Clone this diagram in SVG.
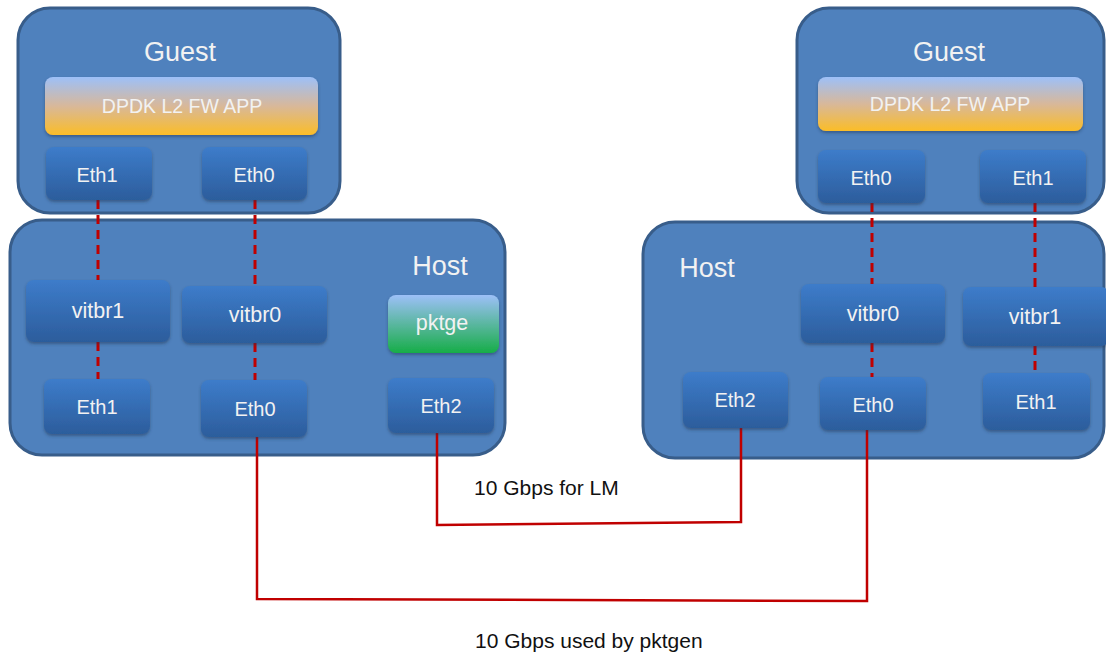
<svg xmlns="http://www.w3.org/2000/svg" width="1106" height="655" viewBox="0 0 1106 655">
<defs>
<linearGradient id="gNode" x1="0" y1="0" x2="0" y2="1">
<stop offset="0" stop-color="#3d7cca"/>
<stop offset="1" stop-color="#2c5d9c"/>
</linearGradient>
<linearGradient id="gApp" x1="0" y1="0" x2="0" y2="1">
<stop offset="0" stop-color="#9dc0f8"/>
<stop offset="0.5" stop-color="#d8b89a"/>
<stop offset="1" stop-color="#fbbd27"/>
</linearGradient>
<linearGradient id="gPkt" x1="0" y1="0" x2="0" y2="1">
<stop offset="0" stop-color="#9dc0f8"/>
<stop offset="1" stop-color="#17ad48"/>
</linearGradient>
<filter id="sh" x="-10%" y="-10%" width="120%" height="130%">
<feDropShadow dx="0" dy="2" stdDeviation="1.5" flood-color="#1d3557" flood-opacity="0.5"/>
</filter>
</defs>
<style>
.box{fill:#4f81bd;stroke:#385d8a;stroke-width:3}
.node{fill:url(#gNode);filter:url(#sh)}
.app{fill:url(#gApp);filter:url(#sh)}
.pkt{fill:url(#gPkt);filter:url(#sh)}
.t{font-family:"Liberation Sans",Arial,sans-serif;fill:#f2f2f2;text-anchor:middle;dominant-baseline:central}
.nt{font-size:20px}
.vt{font-size:21.5px}
.title{font-size:27px}
.dash{stroke:#c00000;stroke-width:3;stroke-dasharray:9,6;fill:none}
.wire{stroke:#c00000;stroke-width:2.5;fill:none}
.lbl{font-family:"Liberation Sans",Arial,sans-serif;font-size:21px;fill:#111}
</style>
<rect width="1106" height="655" fill="#ffffff"/>

<g id="left-guest">
<rect class="box" x="18" y="8" width="322" height="205" rx="32"/>
<text class="t title" x="180" y="52">Guest</text>
</g>
<g id="left-host">
<rect class="box" x="10" y="220" width="495" height="235" rx="32"/>
<text class="t title" x="440" y="266">Host</text>
</g>
<g id="right-guest">
<rect class="box" x="797" y="8" width="307" height="205" rx="32"/>
<text class="t title" x="949" y="52">Guest</text>
</g>
<g id="right-host">
<rect class="box" x="643" y="222" width="461" height="236" rx="32"/>
<text class="t title" x="707" y="268">Host</text>
</g>

<g id="connectors">
<path class="dash" d="M98 200 V280 M98 342 V379"/>
<path class="dash" d="M255 200 V286 M255 343 V380"/>
<path class="dash" d="M872 203 V284 M872 343 V377"/>
<path class="dash" d="M1035 203 V287 M1035 346 V373"/>
<path class="wire" d="M257 437 V599 L867 601 V430"/>
<path class="wire" d="M437 433 V525 L741 522 V428"/>
</g>

<g id="lg-app"><rect class="app" x="45" y="77" width="273" height="58" rx="8"/><text class="t" x="182" y="106" font-size="19.5">DPDK L2 FW APP</text></g>
<g id="lg-eth1"><rect class="node" x="46" y="147" width="106" height="53" rx="8"/><text class="t nt" x="97" y="175">Eth1</text></g>
<g id="lg-eth0"><rect class="node" x="202" y="147" width="105" height="53" rx="8"/><text class="t nt" x="254" y="175">Eth0</text></g>

<g id="lh-vitbr1"><rect class="node" x="26" y="280" width="144" height="62" rx="8"/><text class="t vt" x="98" y="311">vitbr1</text></g>
<g id="lh-vitbr0"><rect class="node" x="182" y="286" width="145" height="57" rx="8"/><text class="t vt" x="255" y="315">vitbr0</text></g>
<g id="lh-pktge"><rect class="pkt" x="388" y="295" width="111" height="58" rx="8"/><text class="t vt" x="442" y="323">pktge</text></g>
<g id="lh-eth1"><rect class="node" x="44" y="379" width="106" height="55" rx="8"/><text class="t nt" x="97" y="407">Eth1</text></g>
<g id="lh-eth0"><rect class="node" x="201" y="380" width="106" height="57" rx="8"/><text class="t nt" x="255" y="409">Eth0</text></g>
<g id="lh-eth2"><rect class="node" x="388" y="378" width="106" height="55" rx="8"/><text class="t nt" x="441" y="406">Eth2</text></g>

<g id="rg-app"><rect class="app" x="818" y="77" width="265" height="54" rx="8"/><text class="t" x="950" y="104" font-size="19.5">DPDK L2 FW APP</text></g>
<g id="rg-eth0"><rect class="node" x="818" y="150" width="107" height="53" rx="8"/><text class="t nt" x="871" y="178">Eth0</text></g>
<g id="rg-eth1"><rect class="node" x="980" y="150" width="106" height="53" rx="8"/><text class="t nt" x="1033" y="178">Eth1</text></g>

<g id="rh-vitbr0"><rect class="node" x="801" y="284" width="144" height="59" rx="8"/><text class="t vt" x="873" y="314">vitbr0</text></g>
<g id="rh-vitbr1"><rect class="node" x="963" y="287" width="146" height="59" rx="8"/><text class="t vt" x="1035" y="317">vitbr1</text></g>
<g id="rh-eth2"><rect class="node" x="683" y="372" width="105" height="56" rx="8"/><text class="t nt" x="735" y="400">Eth2</text></g>
<g id="rh-eth0"><rect class="node" x="820" y="377" width="106" height="53" rx="8"/><text class="t nt" x="873" y="405">Eth0</text></g>
<g id="rh-eth1"><rect class="node" x="983" y="373" width="107" height="57" rx="8"/><text class="t nt" x="1036" y="402">Eth1</text></g>

<text class="lbl" x="474" y="495">10 Gbps for LM</text>
<text class="lbl" x="475" y="648">10 Gbps used by pktgen</text>
</svg>
